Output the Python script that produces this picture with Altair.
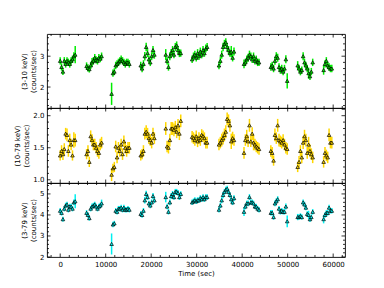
import altair as alt
import pandas as pd

# ---- light-curve data ----
time_sec = [
    0, 300, 600, 900, 1200, 1500, 1800, 2100, 2400, 2700, 3000, 3300,
    5800, 6100, 6400, 6700, 7000, 7300, 7600, 7900, 8200, 8500, 8800, 9100,
    11300, 11600, 11900, 12200, 12500, 12800, 13100, 13400, 13700, 14000, 14300, 14600, 14900, 15200,
    17700, 18000, 18300, 18600, 18900, 19200, 19500, 19800, 20100, 20400, 20700,
    23200, 23500, 23800, 24100, 24400, 24700, 25000, 25300, 25600, 25900, 26200, 26500,
    29000, 29300, 29600, 29900, 30200, 30500, 30800, 31100, 31400, 31700, 32000, 32300,
    34900, 35200, 35500, 35800, 36100, 36400, 36700, 37000, 37300, 37600, 37900, 38200,
    40400, 40700, 41000, 41300, 41600, 41900, 42200, 42500, 42800, 43100, 43400, 43700,
    46300, 46600, 46900, 47200, 47500, 47800, 48100, 48400, 48700, 49000, 49300, 49600, 49900,
    52200, 52500, 52800, 53100, 53400, 53700, 54000, 54300, 54600, 54900, 55200, 55500,
    57900, 58200, 58500, 58800, 59100, 59400, 59700,
]

soft_rate = [
    2.85, 2.65, 2.50, 2.85, 2.75, 2.85, 2.80, 2.75, 2.85, 2.90, 3.00, 3.05,
    2.68, 2.62, 2.58, 2.70, 2.80, 2.85, 2.95, 2.88, 2.85, 2.95, 2.92, 3.00,
    1.78, 2.45, 2.50, 2.70, 2.75, 2.80, 2.85, 2.90, 2.85, 2.80, 2.75, 2.80, 2.80, 2.75,
    2.70, 2.60, 2.75, 3.00, 3.30, 3.10, 2.90, 2.80, 3.00, 3.20, 3.05,
    3.05, 2.85, 2.65, 3.00, 3.10, 3.20, 3.05, 3.30, 3.35, 3.20, 3.10, 3.10,
    2.90, 3.00, 3.05, 2.95, 3.10, 3.00, 3.15, 3.05, 3.20, 3.10, 3.25, 3.30,
    2.70, 2.85, 3.05, 3.30, 3.40, 3.45, 3.30, 3.20, 3.10, 3.15, 2.95, 3.15,
    2.75, 2.80, 2.90, 2.95, 3.05, 3.00, 2.90, 3.00, 2.85, 2.90, 2.80, 2.80,
    2.65, 2.70, 2.60, 2.85, 3.00, 2.95, 2.65, 2.55, 2.60, 2.50, 2.60, 2.90, 2.20,
    2.70, 2.60, 2.50, 2.55, 3.00, 2.80, 2.70, 2.60, 2.45, 2.35, 2.50, 2.80,
    2.55, 2.75, 2.85, 2.70, 2.65, 2.60, 2.60,
]
soft_err = [
    0.12, 0.12, 0.11, 0.12, 0.12, 0.12, 0.12, 0.12, 0.12, 0.12, 0.13, 0.28,
    0.12, 0.12, 0.11, 0.12, 0.14, 0.12, 0.12, 0.12, 0.12, 0.12, 0.12, 0.12,
    0.36, 0.12, 0.11, 0.12, 0.12, 0.12, 0.12, 0.12, 0.12, 0.12, 0.12, 0.12, 0.12, 0.12,
    0.12, 0.12, 0.12, 0.14, 0.14, 0.13, 0.12, 0.12, 0.13, 0.13, 0.13,
    0.18, 0.12, 0.12, 0.13, 0.13, 0.13, 0.12, 0.13, 0.13, 0.13, 0.13, 0.12,
    0.12, 0.12, 0.13, 0.12, 0.13, 0.12, 0.13, 0.12, 0.13, 0.12, 0.13, 0.13,
    0.12, 0.12, 0.13, 0.14, 0.13, 0.13, 0.13, 0.13, 0.12, 0.18, 0.12, 0.13,
    0.14, 0.12, 0.12, 0.13, 0.13, 0.12, 0.12, 0.12, 0.12, 0.12, 0.12, 0.12,
    0.12, 0.12, 0.12, 0.13, 0.13, 0.13, 0.12, 0.12, 0.12, 0.12, 0.12, 0.13, 0.25,
    0.14, 0.12, 0.12, 0.12, 0.13, 0.12, 0.12, 0.12, 0.18, 0.12, 0.12, 0.12,
    0.15, 0.12, 0.12, 0.12, 0.12, 0.12, 0.12,
]

hard_rate = [
    1.38, 1.45, 1.40, 1.48, 1.72, 1.70, 1.45, 1.62, 1.55, 1.38, 1.62, 1.62,
    1.40, 1.45, 1.28, 1.68, 1.62, 1.55, 1.55, 1.50, 1.45, 1.42, 1.55, 1.58,
    1.08, 1.18, 1.20, 1.52, 1.35, 1.50, 1.45, 1.55, 1.40, 1.60, 1.50, 1.45, 1.50, 1.50,
    1.38, 1.40, 1.45, 1.72, 1.75, 1.72, 1.65, 1.62, 1.58, 1.72, 1.65,
    1.80, 1.52, 1.50, 1.62, 1.80, 1.80, 1.78, 1.82, 1.75, 1.85, 1.72, 1.92,
    1.67, 1.65, 1.62, 1.68, 1.60, 1.65, 1.62, 1.70, 1.68, 1.65, 1.58, 1.58,
    1.55, 1.58, 1.62, 1.65, 1.70, 1.75, 1.95, 1.92, 1.85, 1.60, 1.65, 1.62,
    1.42, 1.62, 1.68, 1.60, 1.85, 1.60, 1.72, 1.58, 1.55, 1.52, 1.50, 1.48,
    1.45, 1.42, 1.30, 1.70, 1.65, 1.85, 1.62, 1.60, 1.58, 1.62, 1.55, 1.50, 1.48,
    1.20, 1.28, 1.45, 1.35, 1.58, 1.68, 1.62, 1.42, 1.55, 1.45, 1.40, 1.35,
    1.28, 1.42, 1.38, 1.35, 1.70, 1.58, 1.58,
]
hard_err = [
    0.08, 0.09, 0.09, 0.09, 0.09, 0.10, 0.09, 0.10, 0.09, 0.08, 0.12, 0.10,
    0.08, 0.09, 0.08, 0.09, 0.09, 0.09, 0.09, 0.09, 0.09, 0.09, 0.09, 0.09,
    0.10, 0.07, 0.08, 0.09, 0.09, 0.09, 0.09, 0.09, 0.09, 0.09, 0.09, 0.09, 0.09, 0.09,
    0.08, 0.08, 0.09, 0.09, 0.10, 0.09, 0.09, 0.09, 0.09, 0.09, 0.09,
    0.10, 0.09, 0.09, 0.10, 0.10, 0.10, 0.10, 0.10, 0.10, 0.10, 0.10, 0.10,
    0.09, 0.09, 0.09, 0.09, 0.09, 0.09, 0.09, 0.09, 0.09, 0.09, 0.09, 0.09,
    0.09, 0.09, 0.10, 0.10, 0.10, 0.10, 0.10, 0.10, 0.10, 0.12, 0.10, 0.09,
    0.09, 0.09, 0.10, 0.09, 0.10, 0.09, 0.10, 0.12, 0.09, 0.09, 0.09, 0.09,
    0.09, 0.09, 0.08, 0.10, 0.09, 0.10, 0.10, 0.09, 0.09, 0.09, 0.09, 0.09, 0.09,
    0.08, 0.09, 0.09, 0.09, 0.10, 0.10, 0.10, 0.09, 0.12, 0.10, 0.09, 0.09,
    0.09, 0.09, 0.09, 0.09, 0.10, 0.09, 0.09,
]

total_rate = [
    4.20, 4.10, 3.80, 4.30, 4.45, 4.50, 4.25, 4.40, 4.40, 4.30, 4.60, 4.65,
    4.10, 4.00, 3.85, 4.30, 4.40, 4.45, 4.50, 4.40, 4.30, 4.40, 4.45, 4.55,
    2.62, 3.55, 3.60, 4.20, 4.15, 4.30, 4.30, 4.35, 4.25, 4.35, 4.25, 4.25, 4.30, 4.25,
    4.05, 4.00, 4.20, 4.70, 5.00, 4.85, 4.55, 4.45, 4.60, 4.90, 4.70,
    4.85, 4.40, 4.15, 4.60, 4.90, 5.00, 4.85, 5.10, 5.10, 5.05, 4.85, 5.00,
    4.60, 4.65, 4.70, 4.65, 4.70, 4.70, 4.80, 4.75, 4.85, 4.75, 4.85, 4.85,
    4.25, 4.45, 4.70, 4.95, 5.10, 5.20, 5.25, 5.10, 4.95, 4.75, 4.60, 4.80,
    4.15, 4.40, 4.55, 4.55, 4.85, 4.60, 4.60, 4.55, 4.40, 4.40, 4.30, 4.25,
    4.10, 4.10, 3.90, 4.55, 4.65, 4.75, 4.30, 4.15, 4.20, 4.15, 4.15, 4.40, 3.70,
    3.90, 3.90, 3.95, 3.90, 4.60, 4.50, 4.35, 4.05, 4.00, 3.80, 3.90, 4.15,
    3.80, 4.00, 4.10, 4.10, 4.35, 4.20, 4.20,
]
total_err = [
    0.13, 0.13, 0.12, 0.13, 0.13, 0.13, 0.13, 0.13, 0.13, 0.13, 0.14, 0.33,
    0.13, 0.13, 0.12, 0.13, 0.15, 0.13, 0.13, 0.13, 0.13, 0.13, 0.13, 0.18,
    0.50, 0.13, 0.12, 0.13, 0.13, 0.13, 0.13, 0.13, 0.13, 0.13, 0.13, 0.13, 0.13, 0.13,
    0.13, 0.13, 0.13, 0.15, 0.15, 0.14, 0.13, 0.13, 0.14, 0.14, 0.14,
    0.25, 0.13, 0.13, 0.14, 0.14, 0.14, 0.13, 0.14, 0.14, 0.14, 0.14, 0.13,
    0.13, 0.13, 0.14, 0.13, 0.14, 0.13, 0.14, 0.13, 0.14, 0.13, 0.14, 0.14,
    0.13, 0.13, 0.14, 0.15, 0.14, 0.14, 0.14, 0.14, 0.13, 0.18, 0.13, 0.14,
    0.20, 0.13, 0.13, 0.14, 0.14, 0.13, 0.13, 0.13, 0.13, 0.13, 0.13, 0.13,
    0.13, 0.13, 0.13, 0.14, 0.14, 0.14, 0.13, 0.13, 0.13, 0.13, 0.13, 0.14, 0.28,
    0.15, 0.13, 0.13, 0.13, 0.14, 0.13, 0.13, 0.13, 0.20, 0.13, 0.13, 0.13,
    0.20, 0.13, 0.13, 0.13, 0.13, 0.13, 0.13,
]

# ---- axis ticks ----
x_domain = [-2900, 62600]
x_major = [0, 10000, 20000, 30000, 40000, 50000, 60000]
x_minor = [-2000, 2000, 4000, 6000, 8000, 12000, 14000, 16000, 18000, 22000, 24000,
           26000, 28000, 32000, 34000, 36000, 38000, 42000, 44000, 46000, 48000,
           52000, 54000, 56000, 58000, 62000]

soft_domain = [1.32, 3.72]
soft_major = [2, 3]
soft_minor = [1.4, 1.6, 1.8, 2.2, 2.4, 2.6, 2.8, 3.2, 3.4, 3.6]

hard_domain = [0.95, 2.12]
hard_major = [1.0, 1.5, 2.0]
hard_minor = [1.1, 1.2, 1.3, 1.4, 1.6, 1.7, 1.8, 1.9, 2.1]

total_domain = [2.0, 5.52]
total_major = [2, 3, 4, 5]
total_minor = [2.2, 2.4, 2.6, 2.8, 3.2, 3.4, 3.6, 3.8, 4.2, 4.4, 4.6, 4.8, 5.2, 5.4]

W = 298
FONT = "DejaVu Sans"


def panel(rate, err, color, domain, ymaj, ymin, title, fmt, height, show_x):
    df = pd.DataFrame({
        "t": time_sec,
        "v": rate,
        "lo": [r - e for r, e in zip(rate, err)],
        "hi": [r + e for r, e in zip(rate, err)],
    })
    xscale = alt.Scale(domain=x_domain, nice=False, zero=False)
    yscale = alt.Scale(domain=domain, nice=False, zero=False)
    if show_x:
        xaxis = alt.Axis(values=x_major, format="d", ticks=False, domain=False,
                         grid=False, title="Time (sec)", labelPadding=3,
                         titlePadding=2, labelFlush=False)
    else:
        xaxis = None
    yaxis = alt.Axis(values=ymaj, format=fmt, ticks=False, domain=False,
                     grid=False, title=title, labelPadding=3, titlePadding=3,
                     labelFlush=False)

    base = alt.Chart(df)
    errs = base.mark_rule(color=color, strokeWidth=1.5, clip=True).encode(
        x=alt.X("t:Q", scale=xscale, axis=xaxis),
        y=alt.Y("lo:Q", scale=yscale, axis=yaxis),
        y2="hi:Q",
    )
    pts = base.mark_point(shape="triangle-up", filled=True, size=13, fill=color,
                          stroke="black", strokeWidth=0.7, opacity=1,
                          clip=True).encode(
        x=alt.X("t:Q", scale=xscale, axis=xaxis),
        y=alt.Y("v:Q", scale=yscale, axis=yaxis),
    )

    layers = [errs, pts]
    for vals, ln in ((ymaj, 3.5), (ymin, 2)):
        d = pd.DataFrame({"yv": vals})
        for x0, x1 in ((0, ln), (W - ln, W)):
            layers.append(alt.Chart(d).mark_rule(color="black", strokeWidth=0.8).encode(
                y=alt.Y("yv:Q", scale=yscale, axis=yaxis),
                x=alt.value(x0), x2=alt.value(x1)))
    for vals, ln in ((x_major, 3.5), (x_minor, 2)):
        d = pd.DataFrame({"xv": vals})
        for y0, y1 in ((0, ln), (height - ln, height)):
            layers.append(alt.Chart(d).mark_rule(color="black", strokeWidth=0.8).encode(
                x=alt.X("xv:Q", scale=xscale, axis=xaxis),
                y=alt.value(y0), y2=alt.value(y1)))
    return alt.layer(*layers).properties(width=W, height=height)


top = panel(soft_rate, soft_err, "#00ee00", soft_domain, soft_major, soft_minor,
            ["(3-10 keV)", "(counts/sec)"], "d", 74, False)
mid = panel(hard_rate, hard_err, "#ffd700", hard_domain, hard_major, hard_minor,
            ["(10-79 keV)", "(counts/sec)"], ".1f", 75, False)
bot = panel(total_rate, total_err, "#00f0f0", total_domain, total_major, total_minor,
            ["(3-79 keV)", "(counts/sec)"], "d", 74, True)

chart = alt.vconcat(top, mid, bot, spacing=0, bounds="flush").properties(
    padding={"left": 5, "top": 25, "right": 5, "bottom": 5}
).configure_view(
    stroke="black", strokeWidth=0.9
).configure_axis(
    labelFont=FONT, titleFont=FONT, labelFontSize=7, titleFontSize=7,
    titleFontWeight="normal", labelColor="black", titleColor="black",
)

chart.save("out.html", embed_options={"renderer": "svg", "actions": False})
